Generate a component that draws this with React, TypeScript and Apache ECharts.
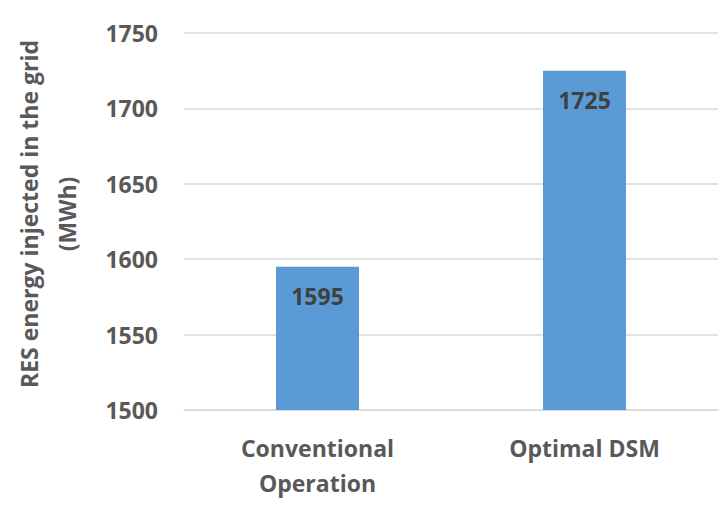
import React, { useEffect, useRef } from "react";
import * as echarts from "echarts";

// Scenario names on the category axis
const categories: string[] = ["Conventional\nOperation", "Optimal DSM"];
// Renewable energy injected into the grid, MWh
const injectedEnergy: number[] = [1595, 1725];
// Value axis range and step
const yMin = 1500;
const yMax = 1750;
const yStep = 50;
const yAxisTitle = "RES energy injected in the grid\n(MWh)";

const FONT = "'Open Sans', 'Noto Sans', sans-serif";

export default function App() {
  const ref = useRef<HTMLDivElement>(null);

  useEffect(() => {
    if (!ref.current) return;
    const chart = echarts.init(ref.current, undefined, { renderer: "svg" });
    chart.setOption({
      animation: false,
      backgroundColor: "#ffffff",
      grid: { left: 184, right: 5, top: 33, bottom: 98 },
      xAxis: {
        type: "category",
        data: categories,
        axisLine: { show: true, lineStyle: { color: "#D9D9D9", width: 1.5 } },
        axisTick: { show: false },
        axisLabel: {
          color: "#595959",
          fontFamily: FONT,
          fontWeight: "bold",
          fontSize: 23,
          lineHeight: 35,
          margin: 20,
        },
      },
      yAxis: {
        type: "value",
        min: yMin,
        max: yMax,
        interval: yStep,
        axisLine: { show: false },
        axisTick: { show: false },
        splitLine: { show: true, lineStyle: { color: "#D9D9D9", width: 1.5 } },
        axisLabel: {
          color: "#595959",
          fontFamily: FONT,
          fontWeight: "bold",
          fontSize: 23,
          margin: 26,
          formatter: (v: number) => String(v),
        },
      },
      graphic: [
        {
          type: "text",
          x: 48,
          y: 214,
          rotation: Math.PI / 2,
          style: {
            text: yAxisTitle,
            fill: "#595959",
            font: `bold 23px ${FONT}`,
            lineHeight: 38,
            align: "center",
            verticalAlign: "middle",
          },
        },
      ],
      series: [
        {
          type: "bar",
          data: injectedEnergy,
          barWidth: 83,
          itemStyle: { color: "#5B9BD5" },
          label: {
            show: true,
            position: "insideTop",
            distance: 18,
            color: "#404040",
            fontFamily: FONT,
            fontWeight: "bold",
            fontSize: 23,
          },
        },
      ],
    });
    return () => chart.dispose();
  }, []);

  return (
    <div
      ref={ref}
      style={{ position: "fixed", left: 0, top: 0, width: 723, height: 508 }}
    />
  );
}
